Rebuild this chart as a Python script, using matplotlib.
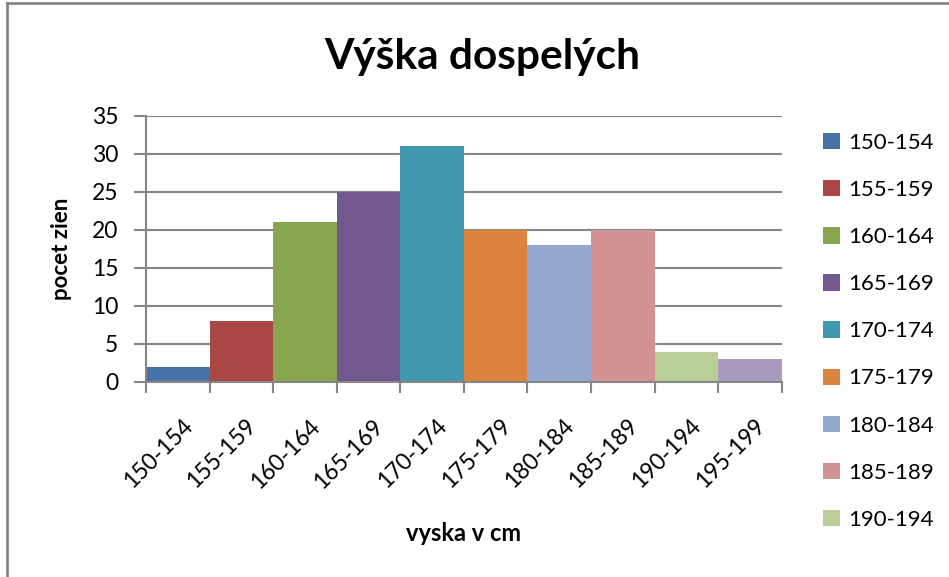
import matplotlib
matplotlib.use("Agg")
import matplotlib.pyplot as plt
from matplotlib.lines import Line2D
from matplotlib.transforms import ScaledTranslation
import numpy as np

plt.rcParams['font.family'] = ['Lato', 'DejaVu Sans']

# data
categories = ['150-154', '155-159', '160-164', '165-169', '170-174',
              '175-179', '180-184', '185-189', '190-194', '195-199']
counts = [2, 8, 21, 25, 31, 20, 18, 20, 4, 3]
colors = ['#4572A7', '#AA4643', '#89A54E', '#71588F', '#4198AF',
          '#DB843D', '#93A9CF', '#D19392', '#B9CD96', '#A99BBD']
yticks = [0, 5, 10, 15, 20, 25, 30, 35]

fig = plt.figure(figsize=(9.49, 5.77), dpi=100)
ax = fig.add_axes([0.1538, 0.338, 0.670, 0.461])

x = np.arange(len(categories))
bars = ax.bar(x, counts, width=1.0, color=colors, zorder=3)

ax.set_xlim(-0.5, len(categories) - 0.5)
ax.set_ylim(0, 35)
ax.set_yticks(yticks)
ax.yaxis.grid(True, color='#868686', linewidth=1.5, zorder=0)

# category labels in the middle, tick marks on the borders
ax.set_xticks(x)
ax.set_xticklabels(categories, rotation=45, ha='right', rotation_mode='anchor')
ax.set_xticks(np.arange(-0.5, len(categories)), minor=True)
ax.tick_params(axis='x', which='major', length=0, pad=24, labelsize=16.5)
ax.tick_params(axis='x', which='minor', length=8, width=1.5, color='#868686')
ax.tick_params(axis='y', length=9, width=1.5, color='#868686', labelsize=16.5, pad=11)
shift = ScaledTranslation(3 / 72, 0, fig.dpi_scale_trans)
for lab in ax.get_xticklabels():
    lab.set_transform(lab.get_transform() + shift)

for s in ['top', 'right']:
    ax.spines[s].set_visible(False)
for s in ['left', 'bottom']:
    ax.spines[s].set_color('#868686')
    ax.spines[s].set_linewidth(1.5)
    ax.spines[s].set_zorder(4)

fig.text(0.508, 0.902, 'Výška dospelých', ha='center', va='center',
         fontsize=30.5, fontweight='bold')
fig.text(0.065, 0.568, 'pocet zien', rotation=90, ha='center', va='center',
         fontsize=16, fontweight='bold')
fig.text(0.488, 0.075, 'vyska v cm', ha='center', va='center',
         fontsize=17, fontweight='bold')

# legend shows only the first nine entries (the last one is cut off)
leg = ax.legend(bars[:9], categories[:9], loc='upper left',
                bbox_to_anchor=(0.858, 0.785), bbox_transform=fig.transFigure,
                frameon=False, fontsize=16, handlelength=0.75, handleheight=0.75,
                handletextpad=0.4, labelspacing=1.22, borderaxespad=0)

# chart border, only top and left edges are inside the picture
fig.add_artist(Line2D([0.0079, 1.0], [0.994, 0.994], transform=fig.transFigure,
                      color='#868686', linewidth=2))
fig.add_artist(Line2D([0.0079, 0.0079], [0.0, 0.994], transform=fig.transFigure,
                      color='#868686', linewidth=2))

fig.savefig('out.png', dpi=100)
